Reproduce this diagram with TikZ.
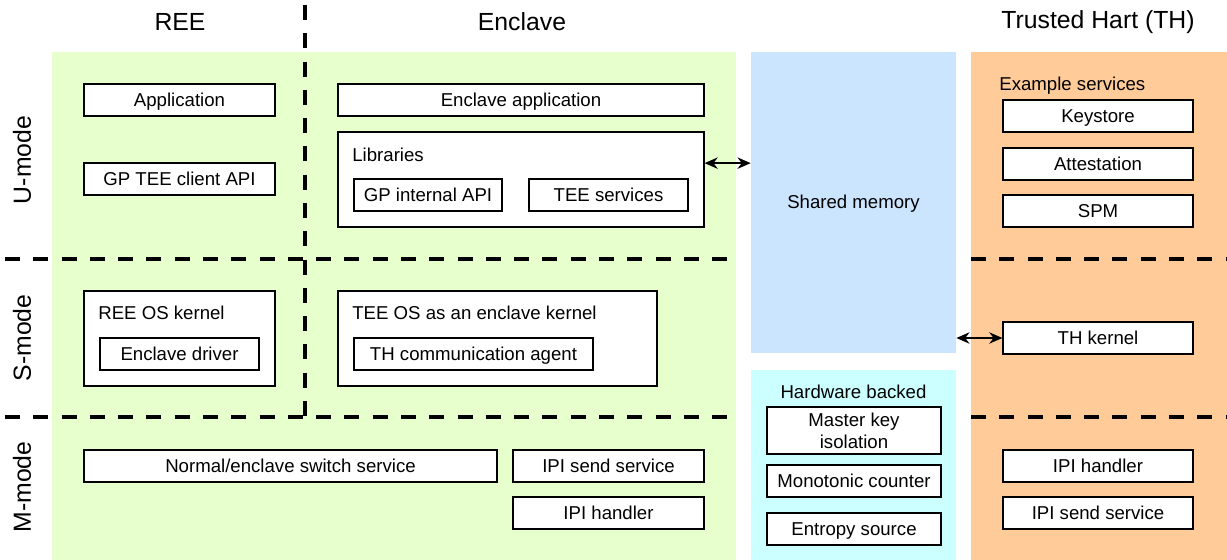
\documentclass[tikz,border=0pt]{standalone}
\usepackage{fontspec}
\setmainfont{Liberation Sans}
\usetikzlibrary{calc, arrows.meta}
\tikzset{>={Stealth[length=7.5pt,width=6.5pt]}}
\definecolor{myGreen}{HTML}{E6FFCC}
\definecolor{myBlue}{HTML}{CCE5FF}
\definecolor{myCyan}{HTML}{CCFFFF}
\definecolor{myOrange}{HTML}{FFCC99}

\begin{document}
\begin{tikzpicture}[x=0.02cm, y=-0.02cm, font=\fontsize{10.6}{12.5}\selectfont,
  oneline/.style={text height=0.72em, text depth=0pt},
  box/.style={draw, fill=white, line width=0.7pt, inner sep=0pt, minimum height=0.64cm, oneline},
  tag/.style={anchor=west, inner sep=0pt, oneline},
  title/.style={font=\fontsize{14.1}{17}\selectfont},
  border/.style={line width=2.3pt, dash pattern=on 8.5pt off 7.6pt}]
\useasboundingbox (0,0) rectangle (1227,560);
% areas
\fill[myGreen] (52,52) rectangle (736,560);
\fill[myCyan] (751,370) rectangle (956,560);
\fill[myOrange] (971,52) rectangle (1227,560);
\node[fill=myBlue, inner sep=0pt, oneline, minimum width=4.1cm, minimum height=6.02cm] (shm) at (853.5,202.5) {Shared memory};

% mode borders
\foreach \y in {259, 417}{
\draw[border] (5,\y) -- (736,\y);
\draw[border] (971,\y) -- (1227,\y);
}
\draw[border] (305,5) -- (305,417);

\node[title] (ree) at (180,22) {REE};
\node[title] (encl) at (522,22) {Enclave};
\node[title] (th) at (1098,22) {Trusted Hart (TH)};
\node[title, rotate=90] (umode) at (22,160) {U-mode};
\node[title, rotate=90] (smode) at (22,338) {S-mode};
\node[title, rotate=90] (mmode) at (22,487) {M-mode};

% REE
\node[box, minimum width=3.82cm] (app) at (179.5,100) {Application};
\node[box, minimum width=3.82cm] (client) at (179.5,179) {GP TEE client API};
\node[box, minimum width=3.82cm, minimum height=1.9cm] (reeos) at (179.5,338.5) {};
\node[tag] (reeostxt) at (98,313) {REE OS kernel};
\node[box, minimum width=3.18cm] (drv) at (179.5,354) {Enclave driver};
\node[box, minimum width=8.26cm] (switch) at (290.5,466) {Normal/enclave switch service};

% Enclave
\node[box, minimum width=7.32cm] (encapp) at (521,100) {Enclave application};
\node[box, minimum width=7.32cm, minimum height=1.9cm] (lib) at (521,179.5) {};
\node[tag] (libtxt) at (352,155) {Libraries};
\node[box, minimum width=2.96cm] (gpint) at (428,195) {GP internal API};
\node[box, minimum width=3.18cm] (teesvc) at (608.5,195) {TEE services};
\node[box, minimum width=6.38cm, minimum height=1.9cm] (teeos) at (497.5,338.5) {};
\node[tag] (teeostxt) at (352,313) {TEE OS as an enclave kernel};
\node[box, minimum width=4.78cm] (agent) at (473.5,354) {TH communication agent};
\node[box, minimum width=3.82cm] (ipis) at (608.5,466) {IPI send service};
\node[box, minimum width=3.82cm] (ipih) at (608.5,513) {IPI handler};

% hardware backed
\node[oneline] (hwtxt) at (853.5,392) {Hardware backed};
\node[draw, fill=white, line width=0.7pt, inner sep=0pt, minimum width=3.48cm, minimum height=0.94cm, align=center] (mki) at (854,430.5) {Master key\\isolation};
\node[box, minimum width=3.48cm] (mono) at (854,481) {Monotonic counter};
\node[box, minimum width=3.48cm] (entropy) at (854,529) {Entropy source};

% trusted hart
\node[tag] (extxt) at (999,84) {Example services};
\node[box, minimum width=3.8cm] (keystore) at (1098,116) {Keystore};
\node[box, minimum width=3.8cm] (attest) at (1098,164) {Attestation};
\node[box, minimum width=3.8cm] (spm) at (1098,211) {SPM};
\node[box, minimum width=3.8cm] (thk) at (1098,338) {TH kernel};
\node[box, minimum width=3.8cm] (thipih) at (1098,466) {IPI handler};
\node[box, minimum width=3.8cm] (thipis) at (1098,513) {IPI send service};

\coordinate (libport) at ($(lib.north east)!0.33!(lib.south east)$);
\draw[<->, line width=0.75pt] (libport) -- (libport -| shm.west);
\draw[<->, line width=0.75pt] (thk.west) -- (thk.west -| shm.east);
\end{tikzpicture}
\end{document}
